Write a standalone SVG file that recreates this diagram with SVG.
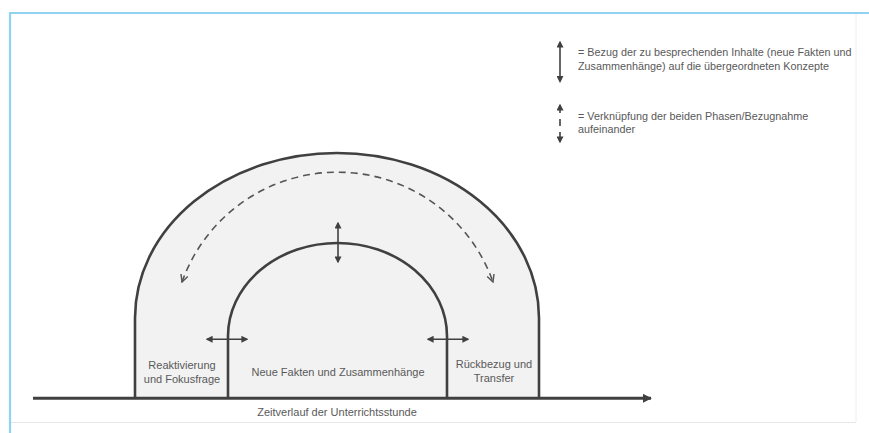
<svg xmlns="http://www.w3.org/2000/svg" width="869" height="433" viewBox="0 0 869 433">
<style>
  .txt { font-family: "Liberation Sans", Arial, sans-serif; fill: #595959; }
  .lbl { font-size: 11px; text-anchor: middle; }
  .leg { font-size: 10.8px; }
  .arch { fill: #f2f2f2; stroke: #404040; stroke-width: 2.6; }
  .dbl { stroke: #404040; stroke-width: 1.6; fill: none; }
  .dash { stroke: #555555; stroke-width: 1.6; fill: none; stroke-dasharray: 7 5; }
</style>
<defs>
  <marker id="tri" viewBox="0 0 10 10" refX="8" refY="5" markerWidth="7" markerHeight="7" markerUnits="userSpaceOnUse" orient="auto-start-reverse">
    <path d="M0,0 L10,5 L0,10 Z" fill="#404040"/>
  </marker>
  <marker id="axisHead" viewBox="0 0 10 10" refX="9" refY="5" markerWidth="9" markerHeight="9" markerUnits="userSpaceOnUse" orient="auto">
    <path d="M0,0 L10,5 L0,10 Z" fill="#404040"/>
  </marker>
  <marker id="open" viewBox="0 0 10 10" refX="9" refY="5" markerWidth="9" markerHeight="9" markerUnits="userSpaceOnUse" orient="auto-start-reverse">
    <path d="M1,1 L9,5 L1,9" fill="none" stroke="#555555" stroke-width="1.6"/>
  </marker>
</defs>

<!-- frame -->
<g id="frame">
  <line x1="856" y1="14" x2="856" y2="422" stroke="#eeeeee" stroke-width="1"/>
  <line x1="10" y1="422.5" x2="856" y2="422.5" stroke="#e6e6e6" stroke-width="1"/>
  <line x1="9" y1="13" x2="869" y2="13" stroke="#8fd3f0" stroke-width="2.2"/>
  <line x1="10" y1="12" x2="10" y2="433" stroke="#8fd3f0" stroke-width="2.2"/>
</g>

<!-- outer arch -->
<g id="outer-arch">
  <path class="arch" d="M135,398 V318 A202,165 0 0 1 539,318 V398"/>
</g>
<!-- inner arch -->
<g id="inner-arch">
  <path class="arch" d="M228,398 V336 A109.5,93 0 0 1 447,336 V398"/>
</g>

<g id="node-reaktivierung">
  <text class="txt lbl" x="182" y="369">Reaktivierung</text>
  <text class="txt lbl" x="182" y="383">und Fokusfrage</text>
</g>
<g id="node-neue-fakten">
  <text class="txt lbl" x="338" y="376">Neue Fakten und Zusammenhänge</text>
</g>
<g id="node-rueckbezug">
  <text class="txt lbl" x="494" y="368">Rückbezug und</text>
  <text class="txt lbl" x="494" y="382">Transfer</text>
</g>
<g id="axis-label">
  <text class="txt lbl" x="337" y="416">Zeitverlauf der Unterrichtsstunde</text>
</g>

<!-- connectors -->
<g id="connectors">
  <line x1="33" y1="398.3" x2="651" y2="398.3" stroke="#404040" stroke-width="3" marker-end="url(#axisHead)"/>
  <path class="dash" d="M182,282 A165,165 0 0 1 493,282" marker-start="url(#open)" marker-end="url(#open)"/>
  <line class="dbl" x1="338" y1="223" x2="338" y2="262" marker-start="url(#tri)" marker-end="url(#tri)"/>
  <line class="dbl" x1="207" y1="339.3" x2="247" y2="339.3" marker-start="url(#tri)" marker-end="url(#tri)"/>
  <line class="dbl" x1="428" y1="339.3" x2="468" y2="339.3" marker-start="url(#tri)" marker-end="url(#tri)"/>
</g>

<!-- legend -->
<g id="legend">
  <line class="dbl" x1="560" y1="42" x2="560" y2="81.5" marker-start="url(#tri)" marker-end="url(#tri)"/>
  <text class="txt leg" x="578" y="56">= Bezug der zu besprechenden Inhalte (neue Fakten und</text>
  <text class="txt leg" x="578" y="70">Zusammenhänge) auf die übergeordneten Konzepte</text>
  <line class="dbl" x1="560" y1="105" x2="560" y2="113" marker-start="url(#tri)"/>
  <line class="dbl" x1="560" y1="119" x2="560" y2="126"/>
  <line class="dbl" x1="560" y1="132" x2="560" y2="142" marker-end="url(#tri)"/>
  <text class="txt leg" x="578" y="120">= Verknüpfung der beiden Phasen/Bezugnahme</text>
  <text class="txt leg" x="578" y="133">aufeinander</text>
</g>
</svg>
